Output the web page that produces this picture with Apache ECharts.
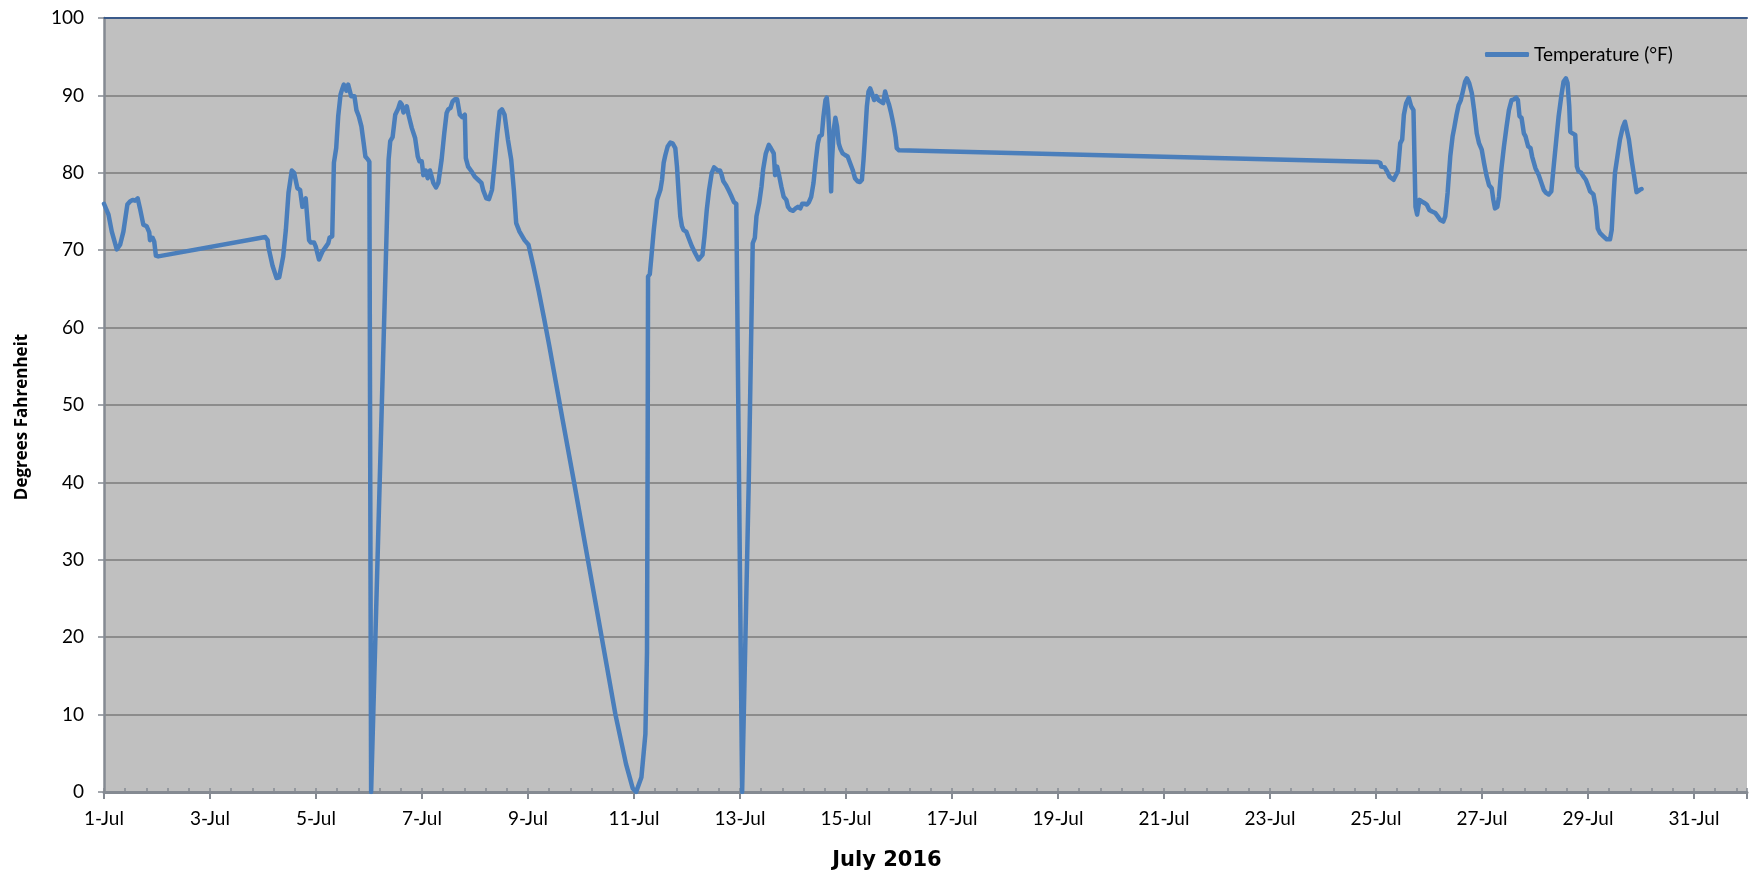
<!DOCTYPE html>
<html>
<head>
<meta charset="utf-8">
<title>Temperature, July 2016</title>
<script src="https://cdn.jsdelivr.net/npm/echarts@6/dist/echarts.min.js"></script>
<style>
  html, body { margin: 0; padding: 0; background: #ffffff; }
  #chart { width: 1750px; height: 877px; }
</style>
</head>
<body>
<div id="chart"></div>
<script>
// Logger readings: [day of month (fractional), temperature in °F]
const jul01to02 = [
  [1.000, 76.0], [1.085, 74.6], [1.147, 72.4], [1.241, 70.1], [1.304, 70.7],
  [1.366, 72.4], [1.441, 75.9], [1.491, 76.3], [1.541, 76.5], [1.585, 76.4],
  [1.635, 76.7], [1.679, 75.4], [1.742, 73.3], [1.804, 73.1], [1.854, 72.3],
  [1.867, 71.3], [1.917, 71.6], [1.948, 71.1], [1.979, 69.3], [2.023, 69.2]
];
const jul04to06 = [
  [4.043, 71.7], [4.087, 71.3], [4.099, 70.5], [4.180, 68.0], [4.256, 66.4],
  [4.306, 66.5], [4.381, 69.2], [4.431, 72.6], [4.481, 77.4], [4.543, 80.3],
  [4.587, 80.0], [4.650, 78.0], [4.700, 77.8], [4.743, 75.6], [4.775, 75.6],
  [4.806, 76.7], [4.837, 76.7], [4.869, 71.3], [4.900, 71.0], [4.962, 71.0],
  [4.994, 70.5], [5.056, 68.8], [5.119, 69.8], [5.181, 70.4], [5.231, 70.9],
  [5.256, 71.6], [5.306, 71.8], [5.338, 81.3], [5.381, 83.2], [5.419, 87.3],
  [5.463, 90.1], [5.494, 90.8], [5.525, 91.4], [5.557, 91.3], [5.575, 90.6],
  [5.607, 91.4], [5.632, 91.3], [5.663, 89.9], [5.694, 89.7], [5.725, 89.9],
  [5.763, 88.1], [5.807, 87.3], [5.857, 86.0], [5.900, 83.8], [5.932, 82.1],
  [5.982, 81.7], [6.007, 81.4], [6.040, 0.0]
];
const jul06to09 = [
  [6.370, 81.7], [6.401, 84.1], [6.445, 84.6], [6.495, 87.5], [6.545, 88.2],
  [6.588, 89.1], [6.620, 88.8], [6.651, 87.8], [6.682, 88.1], [6.713, 88.6],
  [6.745, 87.5], [6.807, 85.8], [6.870, 84.5], [6.920, 82.1], [6.951, 81.5],
  [6.995, 81.5], [7.026, 79.7], [7.070, 80.3], [7.108, 79.3], [7.151, 80.3],
  [7.214, 78.7], [7.264, 78.1], [7.308, 78.7], [7.370, 81.7], [7.420, 85.1],
  [7.464, 87.7], [7.495, 88.2], [7.539, 88.4], [7.576, 89.2], [7.620, 89.5],
  [7.664, 89.5], [7.714, 87.5], [7.758, 87.2], [7.808, 87.5], [7.827, 81.9],
  [7.870, 80.8], [7.933, 80.2], [7.995, 79.5], [8.058, 79.1], [8.121, 78.7],
  [8.152, 77.8], [8.214, 76.7], [8.264, 76.6], [8.321, 77.8], [8.371, 81.3],
  [8.421, 85.1], [8.465, 87.9], [8.508, 88.2], [8.558, 87.5], [8.621, 84.3],
  [8.683, 81.7], [8.733, 77.8], [8.777, 73.5], [8.840, 72.4], [8.934, 71.3],
  [9.009, 70.7]
];
const jul09to11 = [
  [9.100, 68.0], [9.200, 64.8], [9.300, 61.3], [9.400, 57.7], [9.650, 48.2],
  [9.880, 39.6], [10.130, 30.0], [10.390, 20.0], [10.650, 10.0], [10.850, 3.6],
  [10.975, 0.5], [11.040, 0.0], [11.140, 1.9], [11.215, 7.5], [11.245, 18.0],
  [11.258, 45.0], [11.265, 66.6]
];
const jul11to13 = [
  [11.298, 66.9], [11.329, 69.2], [11.373, 72.6], [11.435, 76.5], [11.498, 77.8],
  [11.529, 79.1], [11.560, 81.3], [11.592, 82.3], [11.635, 83.4], [11.686, 83.9],
  [11.729, 83.8], [11.779, 83.2], [11.811, 80.8], [11.842, 77.4], [11.873, 74.4],
  [11.904, 73.1], [11.936, 72.6], [11.986, 72.4], [12.029, 71.6], [12.092, 70.5],
  [12.155, 69.6], [12.217, 68.8], [12.248, 68.7], [12.292, 69.4], [12.330, 71.8],
  [12.373, 75.2], [12.417, 77.8], [12.467, 80.0], [12.511, 80.7], [12.548, 80.8],
  [12.580, 80.3], [12.624, 80.3], [12.655, 79.7], [12.686, 78.9], [12.736, 78.4],
  [12.780, 77.8], [12.811, 77.6], [12.843, 76.9], [12.886, 76.2], [12.930, 76.0],
  [13.040, 0.0], [13.165, 40.0]
];
const jul13to16 = [
  [13.240, 70.9], [13.280, 71.6], [13.311, 74.4], [13.362, 76.1], [13.405, 78.2],
  [13.436, 80.4], [13.487, 82.5], [13.543, 83.6], [13.580, 83.2], [13.637, 82.5],
  [13.662, 79.7], [13.700, 80.8], [13.737, 79.7], [13.781, 78.2], [13.824, 76.9],
  [13.874, 76.5], [13.906, 75.6], [13.950, 75.2], [14.000, 75.1], [14.049, 75.4],
  [14.093, 75.6], [14.137, 75.4], [14.175, 76.0], [14.218, 76.0], [14.262, 75.9],
  [14.300, 76.2], [14.343, 76.9], [14.387, 78.7], [14.425, 81.3], [14.468, 83.8],
  [14.500, 84.7], [14.544, 84.9], [14.575, 87.3], [14.613, 89.4], [14.637, 89.7],
  [14.662, 88.1], [14.688, 84.7], [14.706, 80.4], [14.719, 77.6], [14.737, 81.7],
  [14.769, 85.6], [14.800, 87.1], [14.831, 86.0], [14.863, 83.8], [14.894, 83.1],
  [14.938, 82.5], [14.981, 82.3], [15.031, 82.1], [15.075, 81.3], [15.125, 80.4],
  [15.169, 79.3], [15.219, 78.9], [15.263, 78.8], [15.300, 79.1], [15.331, 81.7],
  [15.363, 85.1], [15.394, 88.6], [15.425, 90.5], [15.457, 90.9], [15.488, 90.3],
  [15.532, 89.4], [15.575, 89.9], [15.613, 89.4], [15.657, 89.2], [15.701, 89.0],
  [15.738, 90.5], [15.782, 89.4], [15.813, 88.8], [15.845, 87.9], [15.876, 86.9],
  [15.907, 85.8], [15.938, 84.5], [15.957, 83.2], [16.001, 82.9]
];
const jul25to30 = [
  [25.038, 81.4], [25.082, 81.25], [25.100, 80.8], [25.163, 80.7], [25.207, 80.2],
  [25.257, 79.5], [25.332, 79.1], [25.369, 79.3], [25.413, 80.2], [25.457, 83.8],
  [25.494, 84.3], [25.526, 87.5], [25.569, 89.0], [25.619, 89.7], [25.663, 88.6],
  [25.707, 88.1], [25.745, 75.6], [25.776, 74.6], [25.820, 76.5], [25.863, 76.3],
  [25.913, 76.1], [25.957, 75.9], [26.007, 75.2], [26.057, 75.0], [26.120, 74.8],
  [26.163, 74.4], [26.213, 73.9], [26.270, 73.7], [26.307, 74.4], [26.351, 77.4],
  [26.401, 82.1], [26.445, 84.7], [26.476, 85.8], [26.520, 87.5], [26.557, 88.7],
  [26.601, 89.4], [26.645, 90.7], [26.682, 91.8], [26.714, 92.2], [26.758, 91.6],
  [26.808, 90.3], [26.851, 88.1], [26.901, 85.1], [26.945, 83.8], [26.995, 83.0],
  [27.039, 81.25], [27.083, 79.7], [27.133, 78.4], [27.183, 78.0], [27.214, 76.5],
  [27.245, 75.4], [27.289, 75.6], [27.320, 76.9], [27.364, 80.4], [27.414, 83.4],
  [27.464, 86.0], [27.508, 88.1], [27.558, 89.4], [27.602, 89.5], [27.646, 89.7],
  [27.677, 89.4], [27.708, 87.3], [27.746, 87.1], [27.790, 85.1], [27.821, 84.7],
  [27.871, 83.4], [27.915, 83.2], [27.946, 82.1], [28.008, 80.6], [28.071, 79.7],
  [28.121, 78.7], [28.165, 77.8], [28.208, 77.4], [28.258, 77.2], [28.308, 77.6],
  [28.352, 80.8], [28.402, 84.3], [28.446, 87.3], [28.496, 89.9], [28.540, 91.8],
  [28.583, 92.2], [28.614, 91.6], [28.646, 88.6], [28.665, 85.3], [28.709, 85.1],
  [28.759, 84.9], [28.790, 80.8], [28.821, 80.2], [28.871, 80.0], [28.915, 79.5],
  [28.959, 79.1], [29.009, 78.2], [29.040, 77.6], [29.071, 77.4], [29.103, 77.2],
  [29.146, 75.6], [29.184, 72.8], [29.228, 72.2], [29.290, 71.8], [29.353, 71.4],
  [29.415, 71.4], [29.447, 72.6], [29.478, 76.5], [29.509, 80.0], [29.559, 82.3],
  [29.603, 84.3], [29.653, 85.8], [29.697, 86.6], [29.728, 86.4], [29.771, 84.3],
  [29.822, 81.7], [29.872, 79.5], [29.916, 77.5], [29.947, 77.4], [29.978, 77.8],
  [30.010, 77.9]
];

// Axis ranges and labels
const monthAbbr = 'Jul';
const firstDay = 1;
const lastTickDay = 31;
const axisEndDay = 32;          // 1-Aug
const dayStep = 2;
const tempMin = 0;
const tempMax = 100;
const tempStep = 10;
const seriesName = 'Temperature (°F)';
const xTitle = 'July 2016';
const yTitle = 'Degrees Fahrenheit';

const readings = [].concat(jul01to02, jul04to06, jul06to09, jul09to11, jul11to13, jul13to16, jul25to30);

const labelFont = 'Lato, "Open Sans", sans-serif';
const axisGrey = '#858a92';
const lineBlue = '#4a7ebb';

const chart = echarts.init(document.getElementById('chart'), null, { renderer: 'canvas' });

chart.setOption({
  animation: false,
  backgroundColor: '#ffffff',
  grid: {
    left: 104, top: 18, right: -6, bottom: 85,
    show: true, backgroundColor: '#c0c0c0', borderWidth: 0
  },
  legend: {
    data: [{ name: seriesName, icon: 'roundRect' }],
    left: 1480, top: 40,
    itemWidth: 44, itemHeight: 5, itemGap: 10, itemTextGap: 5,
    itemStyle: { color: lineBlue, borderWidth: 0 },
    textStyle: { fontFamily: labelFont, fontSize: 19, color: '#000000' }
  },
  xAxis: [
    {
      type: 'value', min: firstDay, max: axisEndDay, interval: dayStep,
      position: 'bottom',
      axisLine: { show: true, onZero: false, lineStyle: { color: axisGrey, width: 3 } },
      axisTick: { show: true, inside: false, length: 7, lineStyle: { color: axisGrey, width: 2 } },
      splitLine: { show: false },
      axisLabel: {
        margin: 17, fontFamily: labelFont, fontSize: 19, color: '#000000',
        showMaxLabel: true,
        formatter: v => (v <= lastTickDay ? `${Math.round(v)}-${monthAbbr}` : '')
      }
    },
    {
      // minor ticks every 0.4 day, drawn inside the plot
      type: 'value', min: firstDay, max: axisEndDay, interval: 0.4,
      position: 'bottom',
      axisLine: { show: false, onZero: false },
      axisTick: { show: true, inside: true, length: 4, lineStyle: { color: axisGrey, width: 1.5 } },
      axisLabel: { show: false },
      splitLine: { show: false }
    },
    {
      // plot area top border
      type: 'value', min: firstDay, max: axisEndDay,
      position: 'top',
      axisLine: { show: true, onZero: false, lineStyle: { color: '#3a5a8a', width: 2 } },
      axisTick: { show: false },
      axisLabel: { show: false },
      splitLine: { show: false }
    }
  ],
  yAxis: {
    type: 'value', min: tempMin, max: tempMax, interval: tempStep,
    axisLine: { show: true, lineStyle: { color: axisGrey, width: 2.5 } },
    axisTick: { show: true, inside: false, length: 6, lineStyle: { color: axisGrey, width: 1.5 } },
    splitLine: { show: true, lineStyle: { color: '#8c8c8c', width: 2 } },
    axisLabel: { margin: 20, fontFamily: labelFont, fontSize: 19, color: '#000000' }
  },
  graphic: [
    {
      type: 'text', x: 887, y: 861,
      style: {
        text: xTitle, fill: '#000000',
        font: 'bold 21px "DejaVu Sans", sans-serif',
        align: 'center', verticalAlign: 'middle'
      }
    },
    {
      type: 'text', x: 22, y: 417, rotation: Math.PI / 2,
      style: {
        text: yTitle, fill: '#000000',
        font: 'bold 17px "Open Sans", sans-serif',
        align: 'center', verticalAlign: 'middle'
      }
    }
  ],
  series: [
    {
      name: seriesName,
      type: 'line',
      xAxisIndex: 0,
      data: readings,
      showSymbol: false,
      symbol: 'none',
      smooth: false,
      lineStyle: { color: lineBlue, width: 4.5, join: 'round', cap: 'round' },
      itemStyle: { color: lineBlue },
      z: 5
    }
  ]
});
</script>
</body>
</html>
